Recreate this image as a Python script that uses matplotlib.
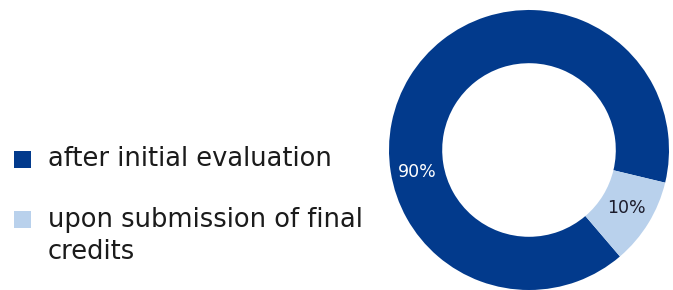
import numpy as np
import matplotlib.pyplot as plt
from matplotlib.patches import Rectangle

labels = ["after initial evaluation", "upon submission of final\ncredits"]
shares = [90, 10]
pct_text = ["90%", "10%"]
colors = ["#023a8c", "#b9d1ec"]
text_colors = ["#ffffff", "#1b1b2b"]

W, H = 673, 290
fig = plt.figure(figsize=(W / 100, H / 100), dpi=100)
plt.rcParams['font.family'] = ['DejaVu Sans']

# donut: centre (529,150) px from top-left, outer radius 140 px
cx, cy, R = 529, 150, 140
ax = fig.add_axes([(cx - R) / W, (H - cy - R) / H, 2 * R / W, 2 * R / H])
wedges, _ = ax.pie(shares, colors=colors, startangle=-13.5, counterclock=True,
                   radius=1.0, wedgeprops=dict(width=0.38, linewidth=0))
ax.set_xlim(-1, 1)
ax.set_ylim(-1, 1)
ax.set_aspect('equal')
ax.axis('off')

# label angles (degrees) - the 90% label sits on the left of the ring
label_angles = [191, -31]
for t, c, a in zip(pct_text, text_colors, label_angles):
    r = 0.81
    ax.text(r * np.cos(np.radians(a)), r * np.sin(np.radians(a)), t,
            ha='center', va='center', color=c, fontsize=12.5)

# legend drawn by hand
sq = 17
rows_top = [151, 211]
baselines = [166, 227]
for lab, col, top, base in zip(labels, colors, rows_top, baselines):
    fig.add_artist(Rectangle((14 / W, (H - top - sq) / H), sq / W, sq / H,
                             transform=fig.transFigure, color=col, lw=0))
    for i, line in enumerate(lab.split("\n")):
        fig.text(48 / W, (H - base - 32 * i) / H, line, ha='left',
                 va='baseline', fontsize=18.5, color='#1b1b1b',
                 transform=fig.transFigure)

fig.savefig("out.png", dpi=100)
